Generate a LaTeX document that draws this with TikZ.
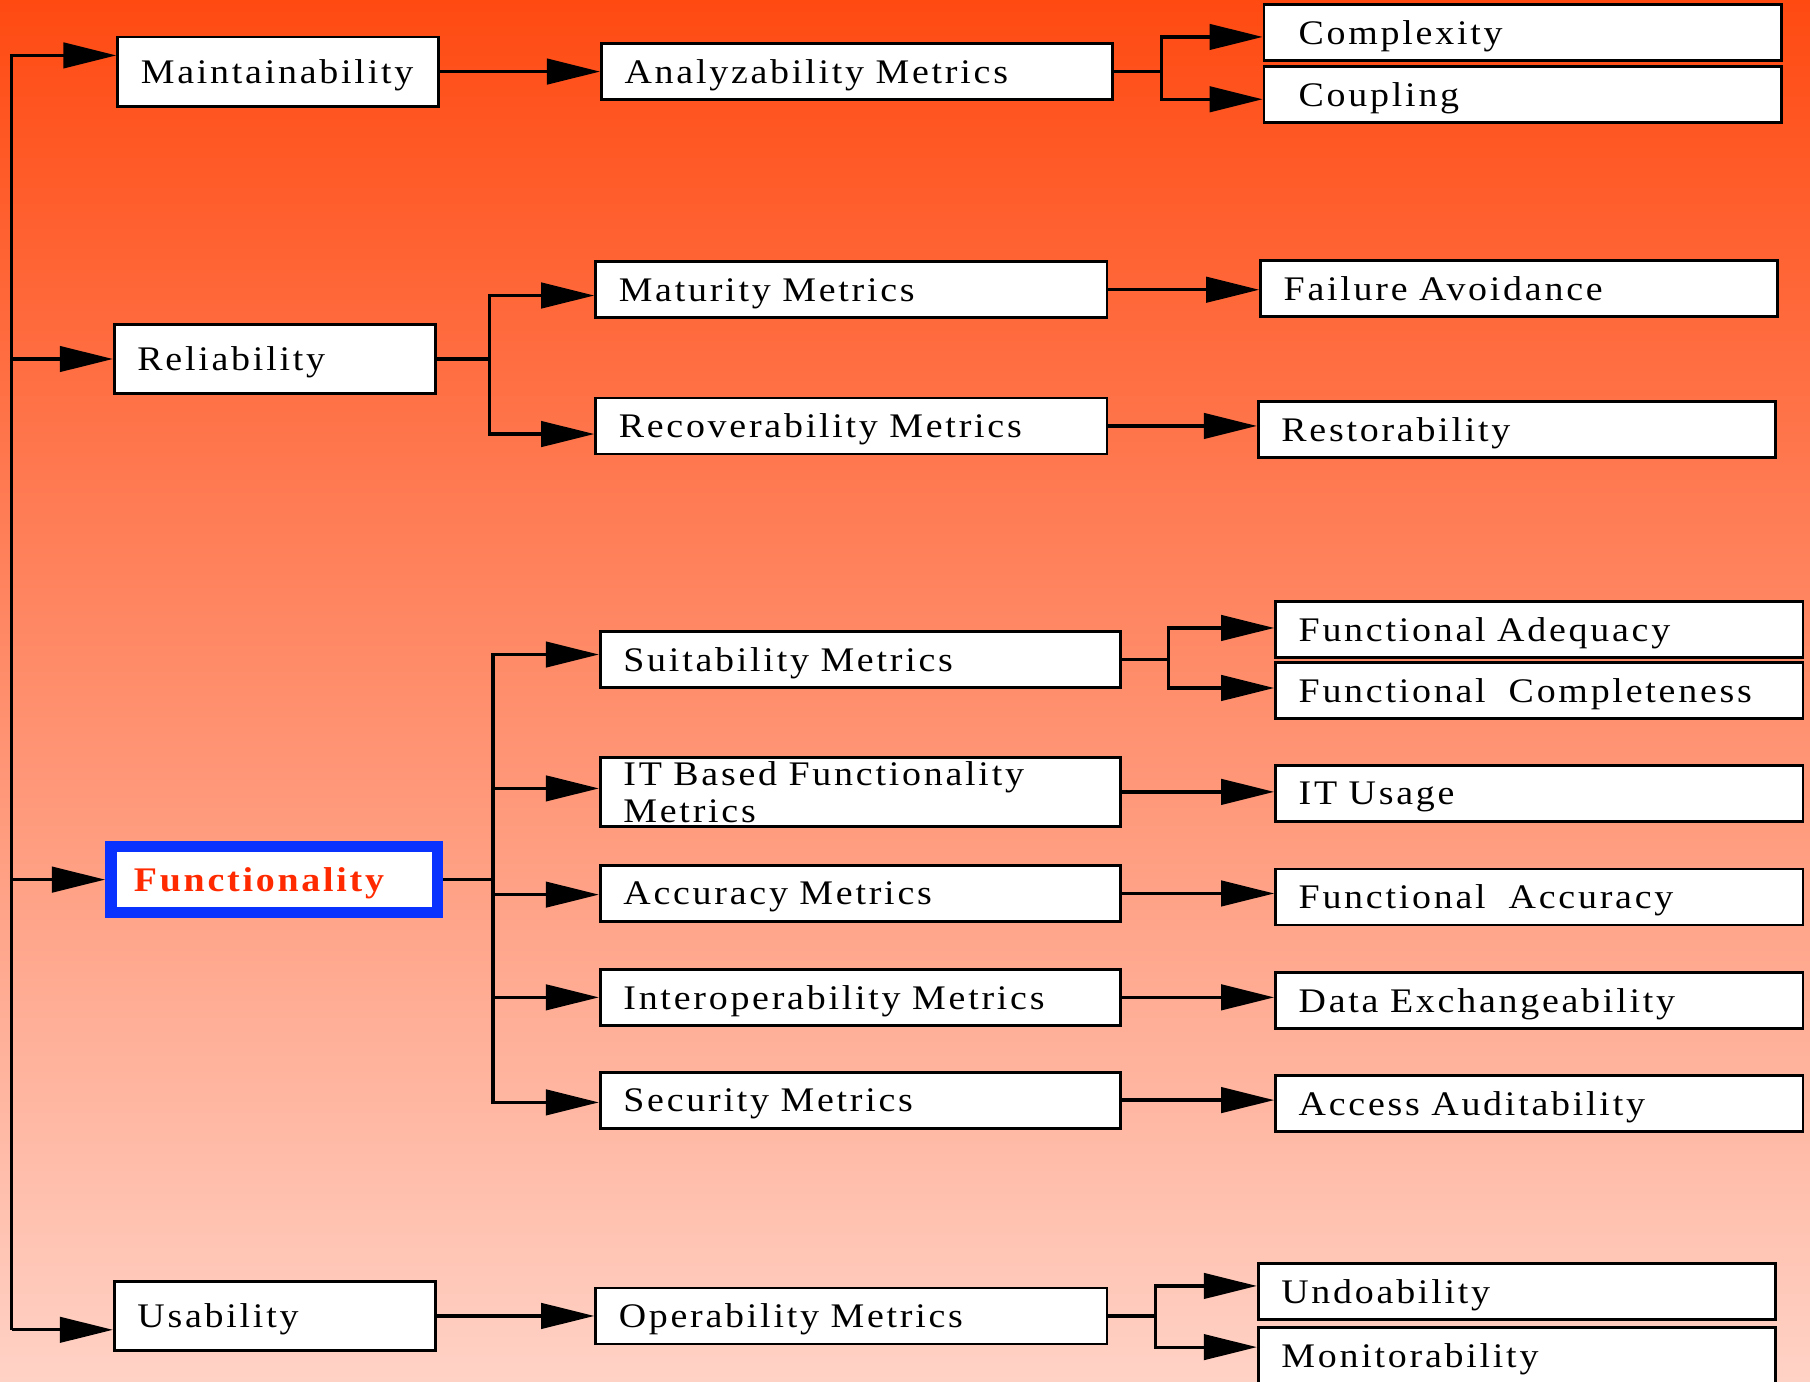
\documentclass[tikz,border=0pt]{standalone}
\usepackage{fontspec}
\setmainfont[FakeStretch=1.1,LetterSpace=8,WordSpace=1.3]{Liberation Serif}
\usetikzlibrary{positioning,arrows.meta,calc}
\definecolor{bgTop}{HTML}{FF4A12}
\definecolor{bgMid}{HTML}{FF9C86}
\definecolor{bgBot}{HTML}{FFD2C6}
\definecolor{fBlue}{HTML}{0A32FF}
\definecolor{fRed}{HTML}{FF2A00}

\begin{document}
\begin{tikzpicture}[x=0.02cm, y=-0.02cm, font=\fontsize{17}{18.2}\selectfont,
  box/.style={draw=black, line width=1.4pt, fill=white, align=left, inner xsep=0.4cm, inner ysep=0pt, text depth=0pt, minimum height=0.97cm},
  qual/.style={box, text width=4.76cm, minimum height=1.2cm},
  metric/.style={box, text width=8.06cm},
  fmetric/.style={box, text width=8.22cm},
  leaf/.style={box, text width=8.16cm},
  fleaf/.style={box, text width=8.34cm},
  link/.style={line width=1.6pt},
  arr/.style={link, -{Triangle[length=0.92cm, width=0.44cm]}}]
\useasboundingbox (0,0) rectangle (1568,1197);
\fill[top color=bgTop, middle color=bgMid, bottom color=bgBot] (0,0) rectangle (1568,1197);

\node[qual] (maint) at (241,62) {Maintainability};
\node[qual] (relia) at (238,311) {Reliability};
\node[qual, draw=fBlue, line width=0.2cm, text width=4.86cm, minimum height=1.14cm, text=fRed, font=\fontsize{17}{18.2}\selectfont\bfseries] (func) at (237.5,762) {Functionality};
\node[qual] (usab) at (238,1140) {Usability};

\node[metric] (analy) at (742.5,62) {Analyzability Metrics};
\node[metric] (matur) at (737.5,251) {Maturity Metrics};
\node[metric] (recov) at (737.5,369) {Recoverability Metrics};
\node[fmetric] (suita) at (745.5,571) {Suitability Metrics};
\node[fmetric, text depth={}, minimum height=1.2cm] (itbas) at (745.5,686) {IT Based Functionality\\ Metrics};
\node[fmetric] (accur) at (745.5,774) {Accuracy Metrics};
\node[fmetric] (inter) at (745.5,864) {Interoperability Metrics};
\node[fmetric] (secur) at (745.5,953) {Security Metrics};
\node[metric] (opera) at (737.5,1140) {Operability Metrics};

\node[leaf, inner xsep=0.6cm, text width=7.76cm] (compl) at (1319,28) {Complexity};
\node[leaf, inner xsep=0.6cm, text width=7.76cm] (coupl) at (1319,82) {Coupling};
\node[leaf] (failu) at (1316,250) {Failure Avoidance};
\node[leaf] (resto) at (1314,372) {Restorability};
\node[fleaf] (fadeq) at (1333.5,545) {Functional Adequacy};
\node[fleaf] (fcomp) at (1333.5,598) {Functional~~Completeness};
\node[fleaf] (itusa) at (1333.5,687.5) {IT Usage};
\node[fleaf] (facc) at (1333.5,777) {Functional~~Accuracy};
\node[fleaf] (dataex) at (1333.5,867) {Data Exchangeability};
\node[fleaf] (acces) at (1333.5,956) {Access Auditability};
\node[leaf] (undo) at (1314,1119) {Undoability};
\node[leaf] (monit) at (1314,1174) {Monitorability};

\coordinate (t1) at (10,48);
\coordinate (t2) at (10,311);
\coordinate (t3) at (10,762);
\coordinate (t4) at (10,1152);
\draw[arr] (t4) -- (t1) -- (maint.west |- t1);
\draw[arr] (t2) -- (relia.west |- t2);
\draw[arr] (t3) -- (func.west |- t3);
\draw[arr] (t4) -- (usab.west |- t4);

\coordinate (jr) at (424,311);
\draw[link] (relia) -- (jr);
\draw[arr] (jr) |- (matur.west |- 0,256);
\draw[arr] (jr) |- (recov.west |- 0,376);

\coordinate (jf) at (427,762);
\draw[link] (func) -- (jf);
\draw[arr] (jf) |- (suita.west |- 0,567);
\draw[arr] (jf) |- (itbas.west |- 0,683);
\draw[arr] (jf) |- (accur.west |- 0,775);
\draw[arr] (jf) |- (inter.west |- 0,864);
\draw[arr] (jf) |- (secur.west |- 0,955);

\draw[arr] (maint) -- (analy);
\draw[arr] (usab) -- (opera);

\coordinate (ja) at (1006,62);
\draw[link] (analy) -- (ja);
\draw[arr] (ja) |- (compl.west |- 0,32);
\draw[arr] (ja) |- (coupl.west |- 0,86);

\draw[arr] (matur.east) -- (failu.west |- matur.east);
\draw[arr] (recov.east) -- (resto.west |- recov.east);

\coordinate (js) at (1012,571);
\draw[link] (suita) -- (js);
\draw[arr] (js) |- (fadeq.west |- 0,544);
\draw[arr] (js) |- (fcomp.west |- 0,596);

\draw[arr] (itbas.east) -- (itusa.west |- itbas.east);
\draw[arr] (accur.east) -- (facc.west |- accur.east);
\draw[arr] (inter.east) -- (dataex.west |- inter.east);
\draw[arr] (secur.east) -- (acces.west |- secur.east);

\coordinate (jo) at (1001,1140);
\draw[link] (opera) -- (jo);
\draw[arr] (jo) |- (undo.west |- 0,1114);
\draw[arr] (jo) |- (monit.west |- 0,1167);
\end{tikzpicture}
\end{document}
